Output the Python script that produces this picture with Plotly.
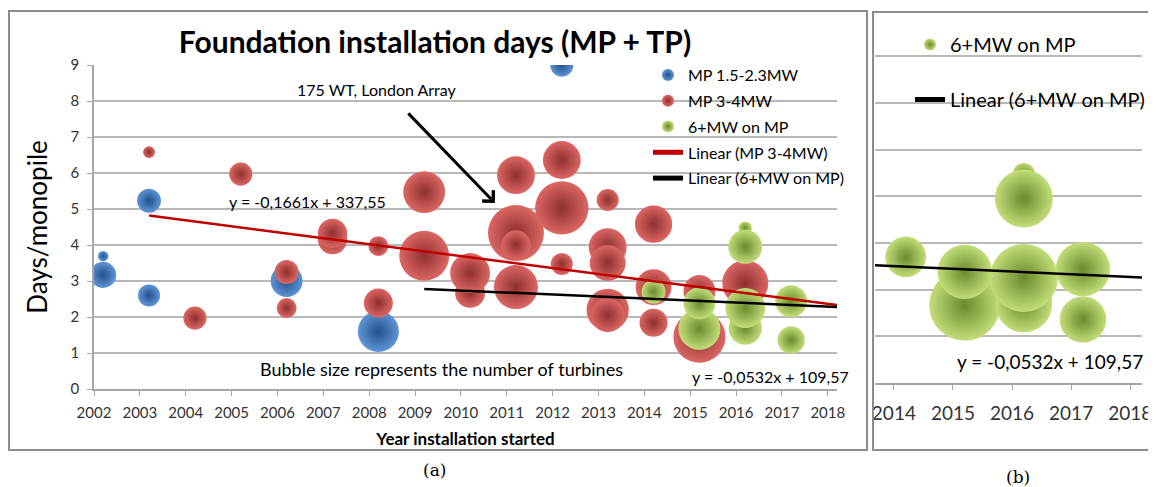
import plotly.graph_objects as go

# the page body has an 8px margin, so the figure is drawn 8px in from the corner
OFF = 8
W, H = 1156 - OFF, 487 - OFF

# MP 1.5-2.3MW
blue_year = [2002.2, 2002.2, 2003.2, 2003.2, 2006.2, 2008.2, 2012.2]
blue_days = [3.17, 3.69, 5.23, 2.60, 3.00, 1.60, 9.0]
blue_turbines = [38, 6, 32, 27, 57, 94, 30]

# MP 3-4MW
red_year = [2003.2, 2004.2, 2005.2, 2006.2, 2006.2, 2007.2, 2007.2, 2008.2, 2008.2,
            2009.2, 2009.2, 2010.2, 2010.2, 2011.2, 2011.2, 2011.2, 2011.2,
            2012.2, 2012.2, 2012.2, 2013.2, 2013.2, 2013.2, 2013.2, 2013.2,
            2014.2, 2014.2, 2014.2, 2015.2, 2015.2, 2016.2]
red_days = [6.58, 1.97, 5.97, 3.25, 2.25, 4.15, 4.32, 3.97, 2.39,
            3.70, 5.47, 2.67, 3.22, 4.33, 4.00, 5.94, 2.83,
            5.03, 6.36, 3.47, 2.20, 2.05, 3.94, 3.50, 5.25,
            4.58, 2.83, 1.84, 1.45, 2.72, 2.94]
red_turbines = [8, 30, 30, 32, 22, 48, 48, 22, 47,
                139, 98, 50, 89, 175, 48, 80, 108,
                159, 80, 27, 100, 64, 80, 72, 27,
                78, 72, 44, 151, 57, 118]

# 6+MW on MP
green_year = [2014.2, 2015.2, 2015.2, 2016.2, 2016.2, 2016.2, 2016.2, 2017.2, 2017.2]
green_days = [2.70, 1.67, 2.38, 1.69, 4.47, 3.95, 2.25, 1.36, 2.44]
green_turbines = [32, 98, 57, 62, 10, 65, 89, 42, 57]

# trend lines (end points)
red_trend_year = [2003.2, 2018.2]
red_trend_days = [4.82, 2.33]
black_trend_year = [2009.2, 2018.2]
black_trend_days = [2.78, 2.28]
black_trend_b_year = [2013.68, 2018.2]
black_trend_b_days = [2.52, 2.26]

FONT = "Lato, Open Sans, sans-serif"


def px_x(p):
    return (p - OFF) / W


def px_y(p):
    return 1 - (p - OFF) / H


def bubble(x, y, n, name, col, edge, sizeref, xa, ya, legend, group):
    return go.Scatter(
        x=x, y=y, mode="markers", name=name, cliponaxis=True,
        marker=dict(size=n, sizemode="area", sizeref=sizeref, color=col, opacity=1,
                    gradient=dict(type="radial", color=edge), line=dict(width=0)),
        xaxis=xa, yaxis=ya, legend=legend, legendgroup=group,
        hovertemplate="Year: %{x}<br>Days: %{y}<br>Turbines: %{marker.size}<extra></extra>")


SREF_A = 2 * 175 / 56 ** 2
SREF_B = SREF_A / 1.7 ** 2

BLUE = ("#5e95d8", "#23508a")
RED = ("#dc6764", "#8e2f2d")
GREEN = ("#c2de7a", "#6b882c")

fig = go.Figure()
fig.add_trace(bubble(blue_year, blue_days, blue_turbines, "MP 1.5-2.3MW", *BLUE, SREF_A, "x", "y", "legend", "a1"))
fig.add_trace(bubble(red_year, red_days, red_turbines, "MP 3-4MW", *RED, SREF_A, "x", "y", "legend", "a2"))
fig.add_trace(bubble(green_year, green_days, green_turbines, "6+MW on MP", *GREEN, SREF_A, "x", "y", "legend", "a3"))
fig.add_trace(go.Scatter(x=red_trend_year, y=red_trend_days, mode="lines", name="Linear (MP 3-4MW)",
                         line=dict(color="#c00000", width=2.5), legend="legend", legendgroup="a4"))
fig.add_trace(go.Scatter(x=black_trend_year, y=black_trend_days, mode="lines", name="Linear (6+MW on MP)",
                         line=dict(color="black", width=2.5), legend="legend", legendgroup="a5"))

fig.add_trace(bubble(green_year, green_days, green_turbines, "6+MW on MP", *GREEN, SREF_B, "x2", "y2", "legend2", "b1"))
fig.add_trace(go.Scatter(x=black_trend_b_year, y=black_trend_b_days, mode="lines", name="Linear (6+MW on MP)",
                         line=dict(color="black", width=2.5), xaxis="x2", yaxis="y2",
                         legend="legend2", legendgroup="b2"))

axis_common = dict(showgrid=False, zeroline=False, linecolor="#a6a6a6", linewidth=1.5,
                   ticks="outside", ticklen=5, tickcolor="#a6a6a6", automargin=False,
                   tickfont=dict(family=FONT, size=15, color="#333333"))

fig.update_layout(
    width=W, height=H, margin=dict(l=0, r=0, t=0, b=0, autoexpand=False),
    paper_bgcolor="white", plot_bgcolor="white",
    font=dict(family=FONT, color="#222222"),
    title=dict(text="<b>Foundation installation days (MP + TP)</b>", x=px_x(435), y=px_y(42),
               xanchor="center", yanchor="middle", font=dict(family=FONT, size=30, color="black")),
    xaxis=dict(axis_common, domain=[px_x(94), px_x(837)], range=[2002, 2018.2], dtick=1,
               tickformat="d", anchor="y", showline=True, ticklabelstandoff=4,
               title=dict(text="<b>Year installation started</b>", font=dict(family=FONT, size=17, color="black"),
                          standoff=13)),
    yaxis=dict(axis_common, domain=[px_y(389), px_y(65)], range=[0, 9], dtick=1, anchor="x",
               showline=True, showgrid=True, gridcolor="#b8b8b8", gridwidth=1.5, ticklabelstandoff=5,
               title=dict(text="Days/monopile", font=dict(family=FONT, size=26, color="black"), standoff=15)),
    xaxis2=dict(axis_common, domain=[px_x(875), px_x(1142)], range=[2013.68, 2018.2], dtick=1,
                tickformat="d", anchor="y2", showline=True, ticklabelstandoff=7,
                tickfont=dict(family=FONT, size=19, color="#333333")),
    yaxis2=dict(domain=[px_y(383), px_y(53.8)], range=[0, 7.05], dtick=1, anchor="x2",
                showgrid=True, gridcolor="#b8b8b8", gridwidth=1.5, zeroline=False, automargin=False,
                showticklabels=False, showline=False),
    legend=dict(x=px_x(648), y=px_y(58), xanchor="left", yanchor="top", bgcolor="rgba(0,0,0,0)",
                font=dict(family=FONT, size=16, color="black"), tracegroupgap=2, itemsizing="constant"),
    legend2=dict(x=px_x(910), y=px_y(25), xanchor="left", yanchor="top", bgcolor="rgba(0,0,0,0)",
                 font=dict(family=FONT, size=20, color="black"), tracegroupgap=26, itemsizing="constant"),
    showlegend=True,
)

# panel frames
fig.add_shape(type="rect", xref="paper", yref="paper", x0=px_x(9), x1=px_x(867), y0=px_y(450), y1=px_y(11),
              line=dict(color="#8c8c8c", width=2))
fig.add_shape(type="rect", xref="paper", yref="paper", x0=px_x(873), x1=px_x(1170), y0=px_y(450), y1=px_y(12),
              line=dict(color="#8c8c8c", width=2))


def note(text, x, y, size, anchor="left", family=FONT):
    fig.add_annotation(text=text, xref="paper", yref="paper", x=px_x(x), y=px_y(y), xanchor=anchor,
                       yanchor="middle", showarrow=False, font=dict(family=family, size=size, color="black"))


note("175 WT, London Array", 295, 90, 16)
note("y = -0,1661x + 337,55", 227, 201, 16)
note("Bubble size represents the number of turbines", 258, 369, 18)
note("y = -0,0532x + 109,57", 690, 376, 16)
note("y = -0,0532x + 109,57", 955, 361, 19)
note("(a)", 434, 470, 17, "center", "DejaVu Serif")
note("(b)", 1018, 477, 17, "center", "DejaVu Serif")

# arrow to London Array
fig.add_annotation(x=2010.74, y=5.17, xref="x", yref="y", ax=-88, ay=-91, text="", showarrow=True,
                   arrowhead=4, arrowsize=1, arrowwidth=3, arrowcolor="black")

fig.write_html("out.html")
